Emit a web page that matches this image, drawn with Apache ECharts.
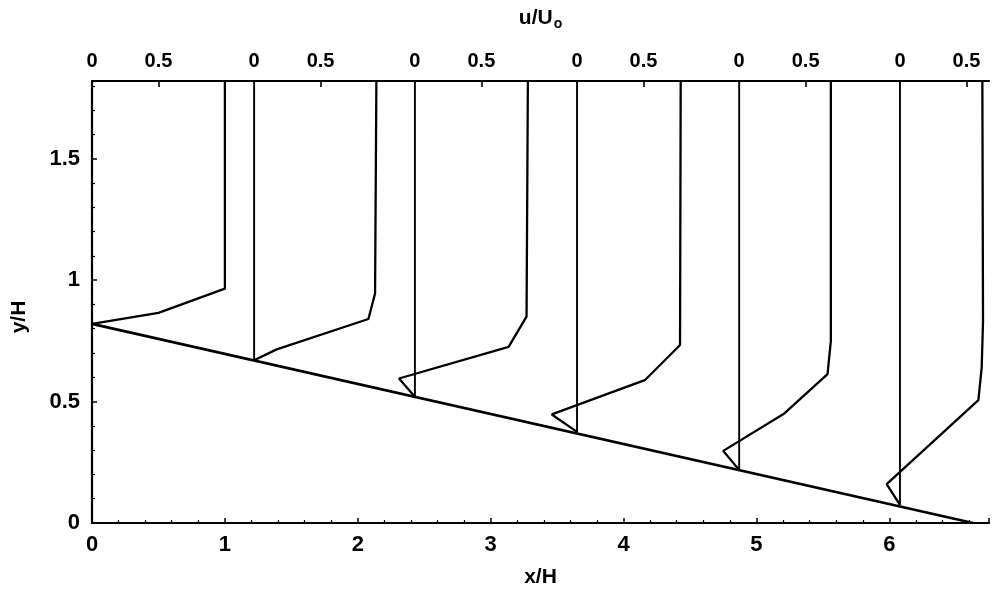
<!DOCTYPE html>
<html>
<head>
<meta charset="utf-8">
<script src="https://cdn.jsdelivr.net/npm/echarts@6/dist/echarts.min.js"></script>
<style>
  html, body { margin: 0; padding: 0; background: #ffffff; }
  #chart { width: 992px; height: 593px; }
</style>
</head>
<body>
<div id="chart"></div>
<script>
// Measuring stations along the ramp (x/H); each profile's u = 0 line sits here
const stations = [0, 1.22, 2.43, 3.65, 4.87, 6.08];

// Velocity profiles u/Uo against height y/H, one pair of arrays per station
const profile1U = [0, 0.50, 1.00, 1.00];
const profile1Y = [0.82, 0.865, 0.965, 1.82];
const profile2U = [0, 0.17, 0.86, 0.91, 0.92];
const profile2Y = [0.67, 0.715, 0.84, 0.945, 1.82];
const profile3U = [0, -0.12, 0.705, 0.84, 0.85];
const profile3Y = [0.52, 0.595, 0.725, 0.85, 1.82];
const profile4U = [0, -0.19, 0.51, 0.775, 0.78];
const profile4Y = [0.375, 0.447, 0.588, 0.733, 1.82];
const profile5U = [0, -0.12, 0.34, 0.665, 0.69, 0.69];
const profile5Y = [0.218, 0.297, 0.451, 0.613, 0.75, 1.82];
const profile6U = [0, -0.10, 0.59, 0.615, 0.625, 0.62];
const profile6Y = [0.075, 0.16, 0.506, 0.64, 0.83, 1.82];

// Ramp surface (x/H, y/H)
const rampX = [0, 6.63];
const rampY = [0.82, 0];

// Axis ranges and tick labels
const xRange = [0, 6.75];
const yRange = [0, 1.82];
const xTickLabels = ['0', '1', '2', '3', '4', '5', '6'];
const yTickLabels = ['0', '0.5', '1', '1.5'];
const uTickLabels = ['0', '0.5'];

const profilesU = [profile1U, profile2U, profile3U, profile4U, profile5U, profile6U];
const profilesY = [profile1Y, profile2Y, profile3Y, profile4Y, profile5Y, profile6Y];

const FONT = '"Liberation Sans", Arial, Helvetica, sans-serif';
const INK = '#000000';

const series = [];

// ramp line
series.push({
  type: 'line',
  data: rampX.map((x, i) => [x, rampY[i]]),
  symbol: 'none',
  lineStyle: { color: INK, width: 2.6 },
  z: 3
});

// u = 0 reference line at each station (the first one is the y axis itself)
stations.forEach((s, k) => {
  if (k === 0) return;
  const ys = profilesY[k];
  series.push({
    type: 'line',
    data: [[s, ys[0]], [s, ys[ys.length - 1]]],
    symbol: 'none',
    lineStyle: { color: INK, width: 1.9 },
    z: 2
  });
});

// velocity profiles, drawn relative to their station
profilesU.forEach((us, k) => {
  const s = stations[k];
  series.push({
    type: 'line',
    data: us.map((u, i) => [s + u, profilesY[k][i]]),
    symbol: 'none',
    lineStyle: { color: INK, width: 2.3 },
    z: 4
  });
});

// top axis: a '0' and '0.5' label for every station
const uLabelValues = [];
const uHalfValues = [];
stations.forEach(s => {
  uLabelValues.push(s, s + 0.5);
  uHalfValues.push(s + 0.5);
});
function uLabel(v) {
  return stations.some(s => Math.abs(s - v) < 1e-6) ? uTickLabels[0] : uTickLabels[1];
}

const chart = echarts.init(document.getElementById('chart'), null, { renderer: 'canvas' });
chart.setOption({
  animation: false,
  backgroundColor: '#ffffff',
  grid: { left: 92, right: 0, top: 81, bottom: 70, containLabel: false },
  xAxis: [
    {
      type: 'value',
      position: 'bottom',
      min: xRange[0], max: xRange[1], interval: 1,
      axisLine: { show: true, lineStyle: { color: INK, width: 2.2 } },
      axisTick: { show: true, inside: true, length: 5, lineStyle: { color: INK, width: 1.5 } },
      minorTick: { show: true, splitNumber: 5, length: 3, lineStyle: { color: INK, width: 1.2 } },
      splitLine: { show: false },
      axisLabel: {
        color: INK, fontFamily: FONT, fontSize: 22, fontWeight: 'bold', margin: 11,
        formatter: v => (Number.isInteger(v) && v < xTickLabels.length) ? xTickLabels[v] : ''
      },
      name: 'x/H',
      nameLocation: 'middle',
      nameGap: 44,
      nameTextStyle: { color: INK, fontFamily: FONT, fontSize: 21, fontWeight: 'bold' }
    },
    {
      type: 'value',
      position: 'top',
      min: xRange[0], max: xRange[1],
      axisLine: { show: true, onZero: false, lineStyle: { color: INK, width: 2.2 } },
      axisTick: { show: true, inside: true, length: 6, customValues: uHalfValues, lineStyle: { color: INK, width: 1.6 } },
      splitLine: { show: false },
      axisLabel: {
        show: true, customValues: uLabelValues,
        color: INK, fontFamily: FONT, fontSize: 20, fontWeight: 'bold', margin: 10,
        formatter: uLabel
      },
      name: 'u/U{sub|o}',
      nameLocation: 'middle',
      nameGap: 50,
      nameTextStyle: {
        color: INK, fontFamily: FONT, fontSize: 21, fontWeight: 'bold',
        rich: { sub: { fontFamily: FONT, fontSize: 14, fontWeight: 'bold', verticalAlign: 'bottom', padding: [12, 0, 0, 1] } }
      }
    }
  ],
  yAxis: {
    type: 'value',
    min: yRange[0], max: yRange[1], interval: 0.5,
    axisLine: { show: true, lineStyle: { color: INK, width: 2.2 } },
    axisTick: { show: true, inside: true, length: 5, lineStyle: { color: INK, width: 1.5 } },
    minorTick: { show: true, splitNumber: 5, length: 3, lineStyle: { color: INK, width: 1.2 } },
    splitLine: { show: false },
    axisLabel: {
      color: INK, fontFamily: FONT, fontSize: 22, fontWeight: 'bold', margin: 12,
      formatter: v => {
        const i = Math.round(v / 0.5);
        return (Math.abs(v - i * 0.5) < 1e-6 && i < yTickLabels.length) ? yTickLabels[i] : '';
      }
    },
    name: 'y/H',
    nameLocation: 'middle',
    nameGap: 62,
    nameTextStyle: { color: INK, fontFamily: FONT, fontSize: 21, fontWeight: 'bold', padding: [0, 30, 0, 0] }
  },
  series: series
});
</script>
</body>
</html>
